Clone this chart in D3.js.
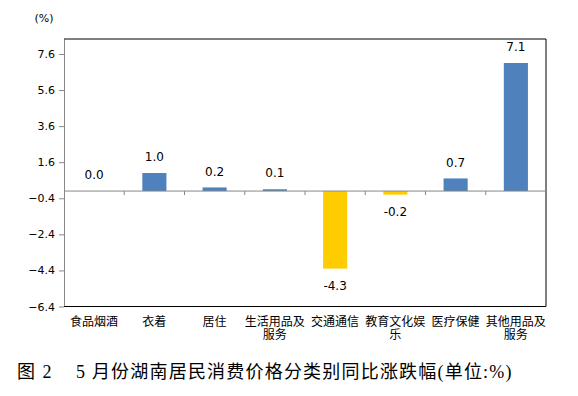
<!DOCTYPE html>
<html>
<head>
<meta charset="utf-8">
<script src="https://cdn.jsdelivr.net/npm/d3@7"></script>
<style>
  body { margin: 0; background: #fff; }
  text { font-family: "DejaVu Sans", "Noto Sans CJK SC", sans-serif; }
</style>
</head>
<body>
<svg id="chart" width="578" height="396"></svg>
<script>
// data
var categories = ["食品烟酒", "衣着", "居住", "生活用品及服务", "交通通信", "教育文化娱乐", "医疗保健", "其他用品及服务"];
var values = [0.0, 1.0, 0.2, 0.1, -4.3, -0.2, 0.7, 7.1];
var yTicks = [-6.4, -4.4, -2.4, -0.4, 1.6, 3.6, 5.6, 7.6];

var svg = d3.select("#chart");
var plotLeft = 64, plotRight = 546, plotTop = 39, plotBottom = 306.5;

var x = d3.scaleBand().domain(categories).range([plotLeft, plotRight]).paddingInner(0).paddingOuter(0);
var y = d3.scaleLinear().domain([-6.4, 8.43]).range([plotBottom, plotTop]);

// y axis
var yAxis = svg.append("g")
    .attr("transform", "translate(" + plotLeft + ",0)")
    .call(d3.axisLeft(y).tickValues(yTicks).tickSize(5).tickSizeOuter(0).tickFormat(d3.format(".1f")));
yAxis.select(".domain").attr("stroke", "#888");
yAxis.selectAll(".tick line").attr("stroke", "#888");
yAxis.selectAll(".tick text").attr("font-size", 11).attr("fill", "#000").attr("x", -9)
    .style("font-family", "'DejaVu Sans', sans-serif");

// frame: top, right, bottom
svg.append("path")
    .attr("d", "M" + plotLeft + "," + plotTop + "H" + plotRight + "V" + plotBottom + "H" + plotLeft)
    .attr("fill", "none")
    .attr("stroke", "#000")
    .attr("stroke-width", 1);

// bars
svg.append("g").selectAll("rect")
    .data(values)
    .enter()
    .append("rect")
        .attr("x", function(d, i) { return x(categories[i]) + x.bandwidth() * 0.3; })
        .attr("width", x.bandwidth() * 0.4)
        .attr("y", function(d) { return y(Math.max(0, d)); })
        .attr("height", function(d) { return Math.abs(y(d) - y(0)); })
        .attr("fill", function(d) { return d < 0 ? "#FFCC00" : "#4F81BD"; });

// zero line with category ticks
var zeroAxis = svg.append("g")
    .attr("transform", "translate(0," + y(0) + ")");
zeroAxis.append("line")
    .attr("x1", plotLeft).attr("x2", plotRight)
    .attr("stroke", "#888");
zeroAxis.selectAll("line.tk")
    .data(categories.slice(1))
    .enter()
    .append("line")
        .attr("class", "tk")
        .attr("x1", function(d) { return x(d); })
        .attr("x2", function(d) { return x(d); })
        .attr("y1", 0).attr("y2", 4)
        .attr("stroke", "#888");

// value labels
svg.append("g").selectAll("text")
    .data(values)
    .enter()
    .append("text")
        .attr("x", function(d, i) { return x(categories[i]) + x.bandwidth() / 2; })
        .attr("y", function(d) { return d < 0 ? y(d) + 17 : y(d) - 16; })
        .attr("dy", "0.35em")
        .attr("text-anchor", "middle")
        .attr("font-size", 12)
        .text(function(d) { return d.toFixed(1); });

// category labels (wrap after 5 chars)
var catText = svg.append("g").selectAll("text")
    .data(categories)
    .enter()
    .append("text")
        .attr("x", function(d) { return x(d) + x.bandwidth() / 2; })
        .attr("y", 326)
        .attr("text-anchor", "middle")
        .attr("font-size", 12)
        .style("font-family", "'Noto Sans CJK SC', sans-serif");
catText.each(function(d) {
    var lines = d.length > 5 ? [d.slice(0, 5), d.slice(5)] : [d];
    var t = d3.select(this);
    lines.forEach(function(l, k) {
        t.append("tspan")
            .attr("x", x(d) + x.bandwidth() / 2)
            .attr("dy", k === 0 ? 0 : 12.5)
            .text(l);
    });
});

// unit label
svg.append("text")
    .attr("x", 44)
    .attr("y", 22)
    .attr("text-anchor", "middle")
    .attr("font-size", 11)
    .text("(%)");

// caption
var caption = svg.append("text")
    .attr("y", 378)
    .attr("font-size", 18)
    .style("font-family", "'Liberation Serif', 'Noto Sans CJK SC', serif");
caption.append("tspan").attr("x", 17).attr("letter-spacing", 1.5).text("图 2");
caption.append("tspan").attr("x", 76).attr("letter-spacing", 1.2).text("5 月份湖南居民消费价格分类别同比涨跌幅(单位:%)");
</script>
</body>
</html>
